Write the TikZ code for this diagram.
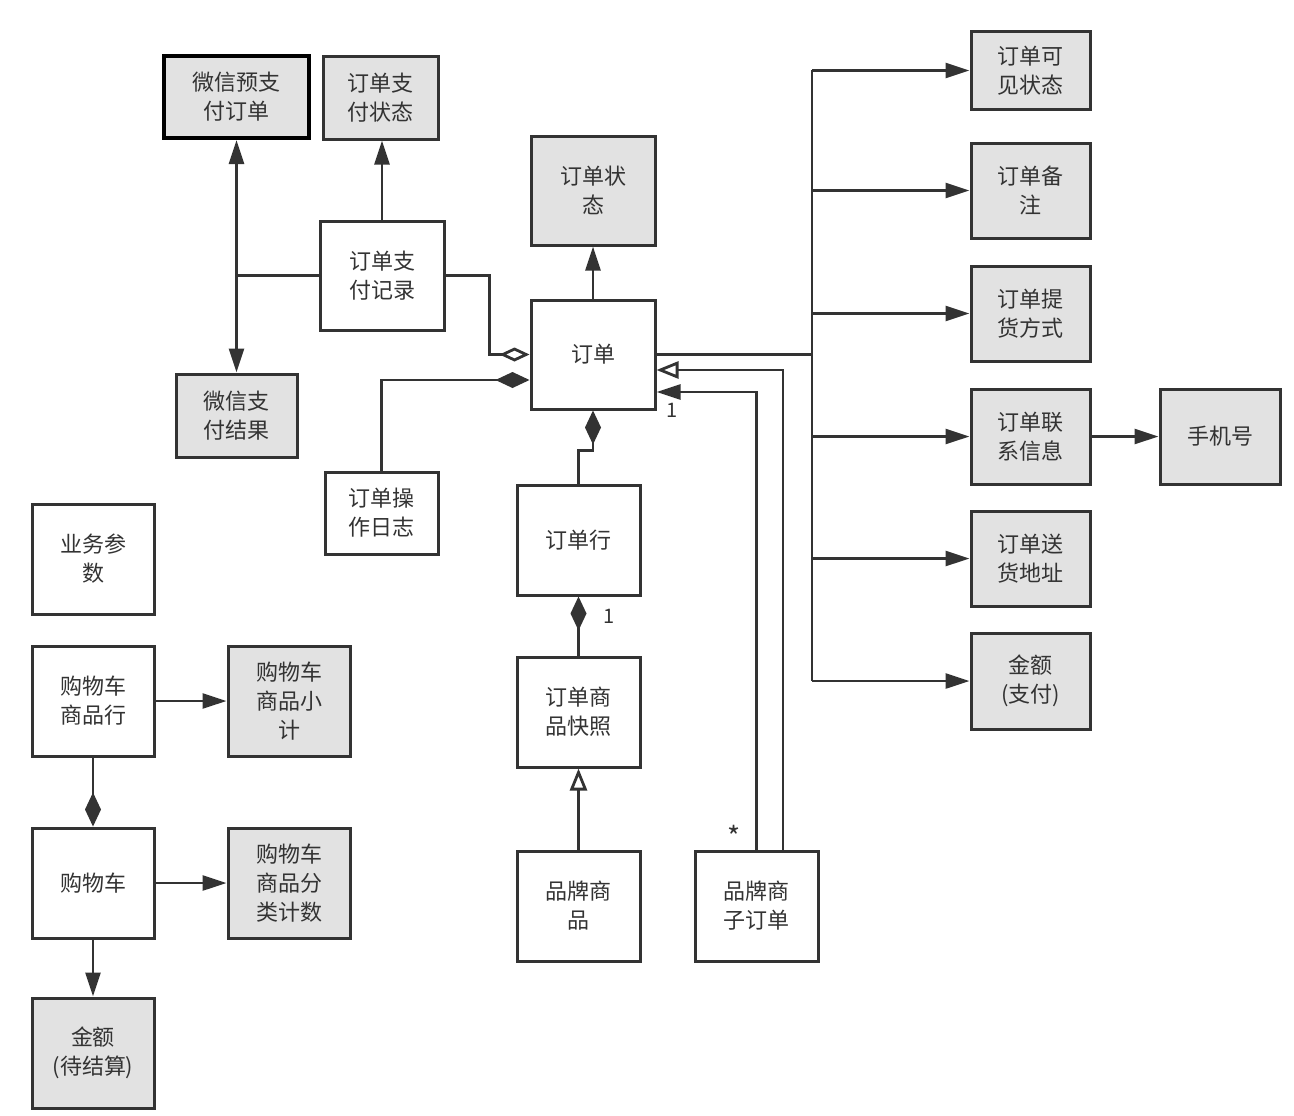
\documentclass[tikz,border=0pt]{standalone}
\usepackage{fontspec}
\setmainfont{Noto Sans CJK SC}
\usetikzlibrary{arrows.meta,calc}
\definecolor{ln}{HTML}{333333}
\definecolor{gf}{HTML}{E2E2E2}
\begin{document}
\begin{tikzpicture}[x=1pt,y=-1pt,
  box/.style={draw=ln, line width=3pt, align=center, text=ln, inner sep=0pt,
    font=\fontsize{22}{29}\selectfont},
  wbox/.style={box, fill=white},
  gbox/.style={box, fill=gf},
  sz/.style 2 args={minimum width=#1pt, minimum height=#2pt},
  conn/.style={draw=ln, line width=2.8pt},
  arr/.style={conn, -{Triangle[length=24pt,width=15pt]}},
  comp/.style={conn, -{Diamond[length=34pt,width=16pt]}},
  aggr/.style={conn, -{Diamond[open,length=30pt,width=14pt,fill=white]}},
  gen/.style={conn, -{Triangle[open,length=22pt,width=17pt,fill=white]}},
  lbl/.style={text=ln, inner sep=0pt, font=\fontsize{20}{24}\selectfont}
]
\useasboundingbox[fill=white] (0,0) rectangle (1294,1116);

% nodes
\node[gbox, sz={145}{82}, draw=black, line width=4pt] (wxpre) at (236.5,97) {微信预支\\付订单};
\node[gbox, sz={115}{82}] (paystat) at (380.5,98) {订单支\\付状态};
\node[gbox, sz={124}{109}] (ostat) at (593,190.5) {订单状\\态};
\node[wbox, sz={124}{109}] (payrec) at (382,275.5) {订单支\\付记录};
\node[gbox, sz={121}{83}] (wxres) at (236.5,415.5) {微信支\\付结果};
\node[wbox, sz={124}{109}] (order) at (593,354.5) {订单};
\node[wbox, sz={113}{82}] (oplog) at (381.5,513) {订单操\\作日志};
\node[wbox, sz={123}{110}] (oline) at (578.5,540) {订单行};
\node[wbox, sz={123}{110}] (snap) at (578.5,712) {订单商\\品快照};
\node[wbox, sz={123}{110}] (bgoods) at (578.5,906) {品牌商\\品};
\node[wbox, sz={123}{110}] (suborder) at (756.5,906) {品牌商\\子订单};
\node[wbox, sz={122}{110}] (params) at (93,559) {业务参\\数};
\node[wbox, sz={122}{110}] (cartline) at (93,701) {购物车\\商品行};
\node[gbox, sz={122}{110}] (subtotal) at (289,701) {购物车\\商品小\\计};
\node[wbox, sz={122}{110}] (cart) at (93,883) {购物车};
\node[gbox, sz={122}{110}] (catcount) at (289,883) {购物车\\商品分\\类计数};
\node[gbox, sz={122}{110}] (amt) at (93,1053) {金额\\(待结算)};
\node[gbox, sz={119}{77}] (vis) at (1030.5,70.5) {订单可\\见状态};
\node[gbox, sz={119}{95}] (note) at (1030.5,190.5) {订单备\\注};
\node[gbox, sz={119}{95}] (pick) at (1030.5,313.5) {订单提\\货方式};
\node[gbox, sz={119}{95}] (contact) at (1030.5,436.5) {订单联\\系信息};
\node[gbox, sz={119}{95}] (addr) at (1030.5,558.5) {订单送\\货地址};
\node[gbox, sz={119}{96}] (pay) at (1030.5,681) {金额\\(支付)};
\node[gbox, sz={120}{95}] (phone) at (1220,436.5) {手机号};

% right bus
\draw[conn, line width=3.6pt] (order.east) -- (812,354.5) coordinate (bus);
\draw[conn] (bus |- vis.west) -- (bus |- pay.west);
\foreach \t in {vis,note,pick,contact,addr,pay}
  \draw[arr] (bus |- \t.west) -- (\t.west);
\draw[arr] (contact.east) -- (phone.west);

% order neighbourhood
\draw[arr] (order.north) -- (ostat.south);
\draw[aggr] (payrec.east) -- ++(44,0) |- (order.west);
\draw[comp] (oplog.north) |- ([yshift=-25.5pt]order.west);
\draw[comp] (oline.north) -- ++(0,-33) -| (order.south);
\draw[comp] (snap.north) -- (oline.south);
\draw[gen] (bgoods.north) -- (snap.south);
\draw[gen] ([xshift=26.5pt]suborder.north) |- ([yshift=-15.5pt]order.east);
\draw[arr] (suborder.north) |- ([yshift=-37.5pt]order.east);
\node[lbl] (m1) at (672,410) {1};
\node[lbl] (m2) at (609,616) {1};
\node[lbl, font=\fontsize{28}{30}\selectfont] (m3) at (734,836) {*};

% payment record
\draw[arr] (payrec.north) -- (payrec.north |- paystat.south);
\draw[conn] (payrec.west) -- (236.5,275.5) coordinate (j);
\draw[arr] (j) -- (wxpre.south);
\draw[arr] (j) -- (wxres.north);

% cart
\draw[arr] (cartline.east) -- (subtotal.west);
\draw[arr] (cart.east) -- (catcount.west);
\draw[comp] (cartline.south) -- (cart.north);
\draw[arr] (cart.south) -- (amt.north);
\end{tikzpicture}
\end{document}
